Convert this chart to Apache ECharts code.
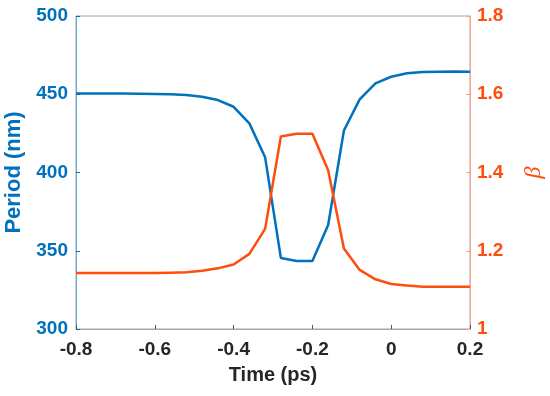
<!DOCTYPE html>
<html>
<head>
<meta charset="utf-8">
<script src="https://cdn.jsdelivr.net/npm/echarts@6/dist/echarts.min.js"></script>
<style>html,body{margin:0;padding:0;background:#fff}#c{width:550px;height:396px}</style>
</head>
<body>
<div id="c"></div>
<script>
const times = [-0.8,-0.76,-0.72,-0.68,-0.64,-0.6,-0.56,-0.52,-0.48,-0.44,-0.4,-0.36,-0.32,-0.28,-0.24,-0.2,-0.16,-0.12,-0.08,-0.04,0,0.04,0.08,0.12,0.16,0.2];
const period = [450.5,450.5,450.4,450.4,450.3,450.2,450.0,449.5,448.4,446.3,442.0,431.4,409.7,345.4,343.5,343.5,366.5,426.8,446.7,457.0,461.2,463.4,464.2,464.4,464.5,464.4];
const beta = [1.143,1.143,1.143,1.143,1.143,1.143,1.144,1.145,1.149,1.155,1.165,1.192,1.256,1.492,1.499,1.499,1.406,1.206,1.151,1.127,1.115,1.111,1.108,1.108,1.108,1.108];
const xTicks = ['-0.8','-0.6','-0.4','-0.2','0','0.2'];
const leftTicks = ['300','350','400','450','500'];
const rightTicks = ['1','1.2','1.4','1.6','1.8'];

const BLUE = '#0072BD', ORANGE = '#FF4D0D', FONT = 'Liberation Sans, Arial, sans-serif';
const chart = echarts.init(document.getElementById('c'));
chart.setOption({
  animation: false,
  grid: {left: 76, right: 80, top: 16, bottom: 67, show: true, borderColor: '#a6a6a6', borderWidth: 1,
    containLabel: false, outerBoundsMode: 'none'},
  xAxis: {
    type: 'value', min: -0.8, max: 0.2, interval: 0.2,
    name: 'Time (ps)', nameLocation: 'middle', nameGap: 36,
    nameTextStyle: {color: '#262626', fontSize: 20, fontWeight: 'bold', fontFamily: FONT},
    axisLine: {onZero: false, lineStyle: {color: '#a6a6a6', width: 1}},
    axisTick: {inside: true, length: 4, lineStyle: {color: '#555'}},
    splitLine: {show: false},
    axisLabel: {margin: 11, color: '#262626', fontSize: 19, fontWeight: 'bold', fontFamily: FONT,
      formatter: v => xTicks[Math.round((v + 0.8) / 0.2)]}
  },
  yAxis: [{
    type: 'value', min: 300, max: 500, interval: 50, position: 'left',
    name: 'Period (nm)', nameLocation: 'middle', nameGap: 45, nameRotate: 90,
    nameTextStyle: {color: BLUE, fontSize: 22, fontWeight: 'bold', fontFamily: FONT},
    axisLine: {show: true, onZero: false, lineStyle: {color: '#5aa9e0', width: 1}},
    axisTick: {inside: true, length: 4, lineStyle: {color: BLUE}},
    splitLine: {show: false},
    axisLabel: {margin: 8, color: BLUE, fontSize: 19, fontWeight: 'bold', fontFamily: FONT,
      formatter: v => leftTicks[Math.round((v - 300) / 50)]}
  }, {
    type: 'value', min: 1, max: 1.8, interval: 0.2, position: 'right',
    name: 'β', nameLocation: 'middle', nameGap: 52, nameRotate: 90,
    nameTextStyle: {color: ORANGE, fontSize: 24, fontStyle: 'italic', fontFamily: 'Liberation Serif, serif'},
    axisLine: {show: true, onZero: false, lineStyle: {color: '#ffa585', width: 1}},
    axisTick: {inside: true, length: 4, lineStyle: {color: '#ffa585'}},
    splitLine: {show: false},
    axisLabel: {margin: 7, color: ORANGE, fontSize: 19, fontWeight: 'bold', fontFamily: FONT,
      formatter: v => rightTicks[Math.round((v - 1) / 0.2)]}
  }],
  series: [{
    type: 'line', yAxisIndex: 0, symbol: 'none', smooth: false,
    lineStyle: {color: BLUE, width: 2.5},
    data: times.map((t, i) => [t, period[i]])
  }, {
    type: 'line', yAxisIndex: 1, symbol: 'none', smooth: false,
    lineStyle: {color: ORANGE, width: 2.5},
    data: times.map((t, i) => [t, beta[i]])
  }]
});
</script>
</body>
</html>
